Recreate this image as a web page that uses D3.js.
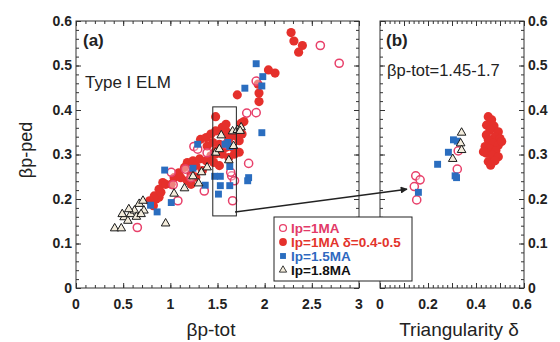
<!DOCTYPE html>
<html>
<head>
<meta charset="utf-8">
<script src="https://cdn.jsdelivr.net/npm/d3@7"></script>
<style>
body { margin: 0; background: #fff; }
svg { display: block; font-family: "Liberation Sans", Arial, sans-serif; }
.frame { fill: none; stroke: #333; stroke-width: 1; }
.tk line { stroke: #333; }
.tk path { display: none; }
.tlab { font-weight: bold; font-size: 14px; fill: #222; }
</style>
</head>
<body>
<div id="chart"></div>
<script>
// ---- data ----
// panel (a): [beta_p_tot, beta_p_ped]
var ip1_open = [[2.59,0.545],[2.79,0.505],[1.91,0.465],[1.81,0.393],[1.91,0.394],[1.83,0.28],[1.66,0.196],
  [1.65,0.252],[1.68,0.241],[1.25,0.318],[1.29,0.312],[1.39,0.304],[1.01,0.26],[1.03,0.232],[0.65,0.136],
  [1.36,0.218],[1.16,0.267],[1.22,0.248],[1.08,0.196],[1.59,0.323],[1.64,0.26]];
var ip1_tri = [[2.28,0.574],[2.31,0.555],[2.36,0.53],[2.40,0.545],[2.04,0.49],[2.11,0.483],[1.71,0.434],
  [1.94,0.438],[1.94,0.419],[1.93,0.458],[1.48,0.385],[1.78,0.374],[1.75,0.37],
  [0.85,0.2],[0.88,0.222],[0.92,0.237],[0.95,0.233],[1.04,0.248],[1.09,0.259],[1.15,0.271],[1.18,0.282],
  [1.24,0.286],[1.27,0.275],[1.31,0.29],[1.34,0.264],[1.38,0.286],[1.43,0.297],[1.46,0.282],[1.48,0.308],
  [1.52,0.323],[1.55,0.301],[1.59,0.316],[1.62,0.334],[1.66,0.316],[1.68,0.301],[1.73,0.331],[1.76,0.346],
  [1.32,0.334],[1.38,0.338],[1.43,0.346],[1.48,0.353],[1.55,0.361],[1.59,0.353],[1.59,0.368],[1.62,0.346],
  [1.69,0.342],[1.39,0.319],[1.45,0.327],[1.22,0.256],[1.27,0.249],[1.18,0.241],[1.22,0.233],[1.11,0.248],
  [1.01,0.233],[0.88,0.204],[0.83,0.207],[1.48,0.301],[1.52,0.275],[1.62,0.293],[1.73,0.305],
  [0.78,0.196],[0.82,0.185],[0.90,0.215]];
var ip15 = [[1.91,0.504],[1.98,0.475],[1.97,0.454],[1.79,0.449],[1.97,0.349],[1.29,0.323],[1.61,0.327],
  [1.63,0.318],[1.58,0.323],[0.94,0.265],[1.24,0.269],[1.83,0.248],[1.82,0.241],[1.47,0.251],[1.53,0.251],
  [1.53,0.23],[1.51,0.211],[1.63,0.23],[1.63,0.273],[1.37,0.231],[1.01,0.192],[0.79,0.186],[0.86,0.171]];
var ip18 = [[0.41,0.134],[0.48,0.134],[0.51,0.159],[0.55,0.151],[0.58,0.166],[0.62,0.174],[0.67,0.189],
  [0.71,0.196],[0.64,0.16],[0.72,0.174],[0.49,0.166],[0.56,0.177],[0.69,0.166],[0.95,0.145],[1.04,0.212],
  [1.15,0.224],[1.24,0.251],[1.33,0.26],[1.39,0.271],[1.30,0.235],[1.54,0.343],[1.48,0.304],[1.52,0.312],
  [1.62,0.287],[1.67,0.319],[1.66,0.352],[1.71,0.355],[1.75,0.361],[1.74,0.353]];

// panel (b): [triangularity, beta_p_ped]
var b_ip1_open = [[0.149,0.252],[0.167,0.243],[0.143,0.228],[0.153,0.198],[0.322,0.267],[0.326,0.308]];
var b_ip1_tri = [[0.451,0.385],[0.465,0.378],[0.444,0.366],[0.475,0.364],[0.458,0.355],[0.493,0.351],
  [0.443,0.344],[0.479,0.34],[0.5,0.336],[0.451,0.333],[0.472,0.325],[0.493,0.321],[0.438,0.318],
  [0.458,0.312],[0.483,0.309],[0.444,0.303],[0.469,0.299],[0.493,0.295],[0.451,0.284],[0.479,0.286],
  [0.461,0.276],[0.431,0.306],[0.507,0.329]];
var b_ip15 = [[0.24,0.278],[0.285,0.305],[0.306,0.333],[0.322,0.33],[0.313,0.252],[0.319,0.248],[0.16,0.215]];
var b_ip18 = [[0.34,0.349],[0.336,0.325],[0.34,0.31],[0.303,0.29]];

var ticksA_x = [0, 0.5, 1, 1.5, 2, 2.5, 3];
var ticksB_x = [0, 0.2, 0.4, 0.6];
var ticks_y = [0, 0.1, 0.2, 0.3, 0.4, 0.5, 0.6];
var box_a = {x0: 1.45, x1: 1.7, y0: 0.162, y1: 0.407};
var arrow = {from: [1.686, 0.171], to: [0.1125, 0.222]};

var legendItems = [
  {key: "open", text: "Ip=1MA", color: "#e23a68"},
  {key: "tri", text: "Ip=1MA \u03b4=0.4-0.5", color: "#e3342c"},
  {key: "sq", text: "Ip=1.5MA", color: "#2e68c0"},
  {key: "t18", text: "Ip=1.8MA", color: "#111"}
];

// ---- layout ----
var W = 560, H = 342;
var svg = d3.select("#chart").append("svg").attr("width", W).attr("height", H);

var xA = d3.scaleLinear().domain([0, 3]).range([76, 359]);
var xB = d3.scaleLinear().domain([0, 0.6]).range([380, 524]);
var y = d3.scaleLinear().domain([0, 0.6]).range([288, 21]);

var sym = {
  open: function(g) { g.attr("d", d3.symbol(d3.symbolCircle, 52)()).attr("fill", "#fff").attr("fill-opacity", 0.4)
      .attr("stroke", "#e8406a").attr("stroke-width", 1.5); },
  tri: function(g) { g.attr("d", d3.symbol(d3.symbolCircle, 66)()).attr("fill", "#e5302b"); },
  sq: function(g) { g.attr("d", d3.symbol(d3.symbolSquare, 48)()).attr("fill", "#2a6dbf"); },
  t18: function(g) { g.attr("d", d3.symbol(d3.symbolTriangle, 32)()).attr("fill", "#f3ecdc")
      .attr("stroke", "#1a1a1a").attr("stroke-width", 1); }
};

function ticksBetween(a, b, step) { return d3.range(Math.round((b - a) / step) + 1).map(function(i) { return +(a + i * step).toFixed(4); }); }

function drawFrame(x, minorX, majorX) {
  var g = svg.append("g");
  var r = x.range(), yr = y.range();
  // inward ticks, all four sides
  g.append("g").attr("class", "tk").attr("transform", "translate(0," + yr[0] + ")")
    .call(d3.axisBottom(x).tickValues(minorX).tickSize(-3).tickFormat(""));
  g.append("g").attr("class", "tk").attr("transform", "translate(0," + yr[0] + ")")
    .call(d3.axisBottom(x).tickValues(majorX).tickSize(-5).tickFormat(""));
  g.append("g").attr("class", "tk").attr("transform", "translate(0," + yr[1] + ")")
    .call(d3.axisTop(x).tickValues(minorX).tickSize(-3).tickFormat(""));
  g.append("g").attr("class", "tk").attr("transform", "translate(0," + yr[1] + ")")
    .call(d3.axisTop(x).tickValues(majorX).tickSize(-5).tickFormat(""));
  var minorY = ticksBetween(0, 0.6, 0.02);
  [[d3.axisLeft, r[0]], [d3.axisRight, r[1]]].forEach(function(s) {
    g.append("g").attr("class", "tk").attr("transform", "translate(" + s[1] + ",0)")
      .call(s[0](y).tickValues(minorY).tickSize(-3).tickFormat(""));
    g.append("g").attr("class", "tk").attr("transform", "translate(" + s[1] + ",0)")
      .call(s[0](y).tickValues(ticks_y).tickSize(-5).tickFormat(""));
  });
  g.append("rect").attr("class", "frame").attr("x", r[0]).attr("y", yr[1])
    .attr("width", r[1] - r[0]).attr("height", yr[0] - yr[1]);
}

drawFrame(xA, ticksBetween(0, 3, 0.1), ticksA_x);
drawFrame(xB, ticksBetween(0, 0.6, 0.02), ticksBetween(0, 0.6, 0.1));

// tick labels
svg.selectAll(".ylA").data(ticks_y).enter().append("text").attr("class", "tlab")
  .attr("x", 72).attr("y", function(d) { return y(d); }).attr("dy", "0.33em")
  .attr("text-anchor", "end").text(function(d) { return d3.format("")(d); });
svg.selectAll(".ylB").data(ticks_y).enter().append("text").attr("class", "tlab")
  .attr("x", 528).attr("y", function(d) { return y(d); }).attr("dy", "0.33em")
  .text(function(d) { return d3.format("")(d); });
svg.selectAll(".xlA").data(ticksA_x).enter().append("text").attr("class", "tlab")
  .attr("x", function(d) { return xA(d); }).attr("y", 309).attr("text-anchor", "middle")
  .text(function(d) { return d; });
svg.selectAll(".xlB").data(ticksB_x).enter().append("text").attr("class", "tlab")
  .attr("x", function(d) { return xB(d); }).attr("y", 309).attr("text-anchor", "middle")
  .text(function(d) { return d === 0.6 ? "0.6" : d; })
  .attr("dx", function(d) { return d === 0.6 ? -2 : 0; });

// axis titles
svg.append("text").attr("transform", "translate(32,150) rotate(-90)").attr("text-anchor", "middle")
  .style("font-size", "18px").attr("fill", "#222").text("\u03b2p-ped");
svg.append("text").attr("x", 211).attr("y", 336).attr("text-anchor", "middle")
  .style("font-size", "19px").attr("fill", "#222").text("\u03b2p-tot");
svg.append("text").attr("x", 459).attr("y", 336).attr("text-anchor", "middle")
  .style("font-size", "19px").attr("fill", "#222").text("Triangularity \u03b4");

// panel annotations
svg.append("text").attr("x", 83).attr("y", 46).style("font-size", "17px").style("font-weight", "bold")
  .attr("fill", "#222").text("(a)");
svg.append("text").attr("x", 85).attr("y", 88).style("font-size", "17px").attr("fill", "#222").text("Type I ELM");
svg.append("text").attr("x", 386).attr("y", 46).style("font-size", "17px").style("font-weight", "bold")
  .attr("fill", "#222").text("(b)");
svg.append("text").attr("x", 387).attr("y", 76).style("font-size", "16.5px").attr("fill", "#222")
  .text("\u03b2p-tot=1.45-1.7");

// markers
function plot(data, x, key) {
  svg.append("g").selectAll("path").data(data).enter().append("path")
    .attr("transform", function(d) { return "translate(" + x(d[0]) + "," + y(d[1]) + ")"; })
    .call(sym[key]);
}
plot(ip1_tri, xA, "tri");
plot(ip1_open, xA, "open");
plot(ip15, xA, "sq");
plot(ip18, xA, "t18");
plot(b_ip1_tri, xB, "tri");
plot(b_ip1_open, xB, "open");
plot(b_ip15, xB, "sq");
plot(b_ip18, xB, "t18");

// selection box + arrow
svg.append("rect").attr("x", xA(box_a.x0)).attr("y", y(box_a.y1))
  .attr("width", xA(box_a.x1) - xA(box_a.x0)).attr("height", y(box_a.y0) - y(box_a.y1))
  .attr("fill", "none").attr("stroke", "#222").attr("stroke-width", 1);
svg.append("defs").append("marker").attr("id", "ah").attr("viewBox", "0 0 10 10")
  .attr("refX", 9).attr("refY", 5).attr("markerWidth", 10).attr("markerHeight", 7)
  .attr("markerUnits", "userSpaceOnUse").attr("orient", "auto")
  .append("path").attr("d", "M0,0L10,5L0,10z").attr("fill", "#222");
svg.append("line").attr("x1", xA(arrow.from[0])).attr("y1", y(arrow.from[1]))
  .attr("x2", xB(arrow.to[0])).attr("y2", y(arrow.to[1]))
  .attr("stroke", "#222").attr("stroke-width", 1.5).attr("marker-end", "url(#ah)");

// legend
var lg = svg.append("g").attr("transform", "translate(274,217)");
lg.append("rect").attr("width", 138).attr("height", 64).attr("fill", "#fff").attr("stroke", "#222");
var row = lg.selectAll(".row").data(legendItems).enter().append("g")
  .attr("transform", function(d, i) { return "translate(0," + (11 + i * 14) + ")"; });
row.append("path").attr("transform", "translate(9,0) scale(0.85)").each(function(d) { d3.select(this).call(sym[d.key]); });
row.append("text").attr("x", 17).attr("dy", "0.36em").style("font-size", "13.5px").style("font-weight", "bold")
  .attr("fill", function(d) { return d.color; }).text(function(d) { return d.text; });
</script>
</body>
</html>
